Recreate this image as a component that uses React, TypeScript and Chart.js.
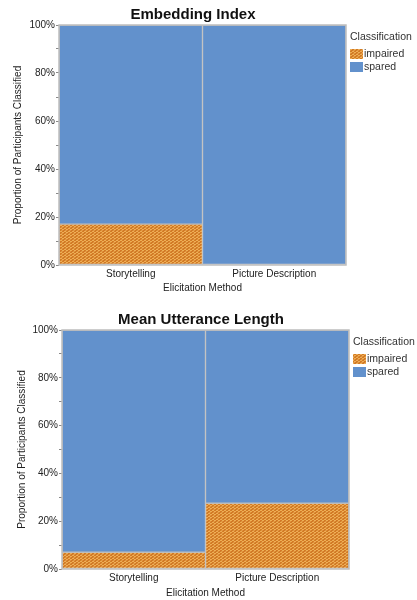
import React, { useEffect, useRef } from "react";
import { Chart, registerables } from "chart.js";

Chart.register(...registerables);

const categories = ["Storytelling", "Picture Description"];
const seriesNames = ["impaired", "spared"];
const embeddingImpaired = [17, 0];
const embeddingSpared = [83, 100];
const mluImpaired = [7, 27.5];
const mluSpared = [93, 72.5];
const yTickValues = [0, 20, 40, 60, 80, 100];
const titles = ["Embedding Index", "Mean Utterance Length"];
const xTitle = "Elicitation Method";
const yTitle = "Proportion of Participants Classified";
const legendTitle = "Classification";

const BLUE = "#6291cc";
const GRID = "#bdbdbd";
const FONT = "'Liberation Sans', Arial, sans-serif";

function makePattern(): CanvasPattern | string {
  const c = document.createElement("canvas");
  c.width = 4;
  c.height = 3;
  const g = c.getContext("2d");
  if (!g) return "#dc8a33";
  g.fillStyle = "#d27a26";
  g.fillRect(0, 0, 4, 3);
  g.fillStyle = "#eeae55";
  g.fillRect(0, 0, 2, 1);
  g.fillRect(2, 1, 2, 1);
  g.fillStyle = "#e09640";
  g.fillRect(1, 2, 2, 1);
  const p = g.createPattern(c, "repeat");
  return p || "#dc8a33";
}

type Cfg = {
  title: string;
  titleX: number;
  titleY: number;
  impaired: number[];
  spared: number[];
  yWidth: number;
  xHeight: number;
  padTop: number;
  padRight: number;
  yTitlePad: number;
  xTitlePad: number;
  legendX: number;
  legendY: number;
};

function MosaicChart({ cfg }: { cfg: Cfg }) {
  const ref = useRef<HTMLCanvasElement | null>(null);
  useEffect(() => {
    if (!ref.current) return;
    const pattern = makePattern();
    const overlay = {
      id: "overlay",
      afterDatasetsDraw(chart: any) {
        const { ctx, chartArea } = chart;
        ctx.save();
        ctx.strokeStyle = GRID;
        ctx.lineWidth = 1.5;
        ctx.strokeRect(chartArea.left, chartArea.top, chartArea.right - chartArea.left, chartArea.bottom - chartArea.top);
        ctx.restore();
      },
      afterDraw(chart: any) {
        const { ctx } = chart;
        ctx.save();
        ctx.fillStyle = "#111";
        ctx.font = `bold 15px ${FONT}`;
        ctx.textAlign = "center";
        ctx.textBaseline = "middle";
        ctx.fillText(cfg.title, cfg.titleX, cfg.titleY);
        ctx.font = `10.5px ${FONT}`;
        ctx.fillStyle = "#333";
        ctx.textAlign = "left";
        ctx.fillText(legendTitle, cfg.legendX, cfg.legendY);
        chart.data.datasets.forEach((ds: any, i: number) => {
          const y = cfg.legendY + 17 + i * 13;
          ctx.fillStyle = ds.backgroundColor;
          ctx.fillRect(cfg.legendX, y - 5, 13, 10);
          ctx.fillStyle = "#333";
          ctx.fillText(ds.label, cfg.legendX + 14, y);
        });
        ctx.restore();
      },
    };
    const chart = new Chart(ref.current, {
      type: "bar",
      data: {
        labels: categories,
        datasets: [
          {
            label: seriesNames[0],
            data: cfg.impaired,
            backgroundColor: pattern as any,
            borderColor: GRID,
            borderWidth: 1,
            borderSkipped: false,
          },
          {
            label: seriesNames[1],
            data: cfg.spared,
            backgroundColor: BLUE,
            borderColor: GRID,
            borderWidth: 1,
            borderSkipped: false,
          },
        ],
      },
      options: {
        animation: false,
        responsive: false,
        maintainAspectRatio: false,
        datasets: { bar: { categoryPercentage: 1, barPercentage: 1 } },
        layout: { padding: { top: cfg.padTop, right: cfg.padRight, left: 0, bottom: 0 } },
        plugins: {
          legend: { display: false },
          title: { display: false },
          tooltip: { enabled: false },
        },
        scales: {
          x: {
            stacked: true,
            grid: { display: false, drawTicks: false },
            border: { display: false },
            ticks: { color: "#222", font: { family: FONT, size: 10 }, padding: 3 },
            title: {
              display: true,
              text: xTitle,
              color: "#222",
              font: { family: FONT, size: 10 },
              padding: { top: 0, bottom: cfg.xTitlePad },
            },
            afterFit(scale: any) {
              scale.height = cfg.xHeight;
            },
          },
          y: {
            stacked: true,
            min: 0,
            max: 100,
            afterBuildTicks(scale: any) {
              const t: any[] = [];
              for (let v = 0; v <= 100; v += 10) t.push({ value: v });
              scale.ticks = t;
            },
            grid: { drawOnChartArea: false, drawTicks: true, tickLength: 3, color: "#888" },
            border: { display: false },
            ticks: {
              color: "#222",
              font: { family: FONT, size: 10 },
              padding: 1,
              autoSkip: false,
              callback: (v: any) => (yTickValues.includes(Number(v)) ? `${v}%` : ""),
            },
            title: {
              display: true,
              text: yTitle,
              color: "#222",
              font: { family: FONT, size: 10 },
              padding: { top: cfg.yTitlePad, bottom: 0 },
            },
            afterFit(scale: any) {
              scale.width = cfg.yWidth;
            },
          },
        },
      },
      plugins: [overlay],
    });
    return () => chart.destroy();
  }, [cfg]);
  return <canvas ref={ref} width={417} height={300} style={{ display: "block" }} />;
}

const cfg1: Cfg = {
  title: titles[0],
  titleX: 193,
  titleY: 15,
  impaired: embeddingImpaired,
  spared: embeddingSpared,
  yWidth: 59,
  xHeight: 35,
  padTop: 25,
  padRight: 71,
  yTitlePad: 12,
  xTitlePad: 6,
  legendX: 350,
  legendY: 37,
};

const cfg2: Cfg = {
  title: titles[1],
  titleX: 201,
  titleY: 20,
  impaired: mluImpaired,
  spared: mluSpared,
  yWidth: 62,
  xHeight: 31,
  padTop: 30,
  padRight: 68,
  yTitlePad: 16,
  xTitlePad: 1,
  legendX: 353,
  legendY: 42,
};

export default function App() {
  return (
    <div style={{ position: "fixed", left: 0, top: 0, width: 417, height: 600, background: "#fff" }}>
      <MosaicChart cfg={cfg1} />
      <MosaicChart cfg={cfg2} />
    </div>
  );
}
